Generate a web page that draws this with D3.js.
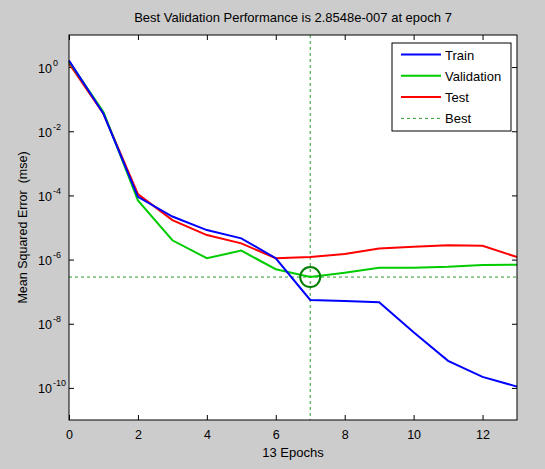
<!DOCTYPE html>
<html>
<head>
<meta charset="utf-8">
<script src="https://cdn.jsdelivr.net/npm/d3@7"></script>
<style>
  body { margin: 0; background: #cccccc; }
  svg { display: block; font-family: "Liberation Sans", Arial, sans-serif; }
  .axis text { font-size: 12.5px; fill: #000; }
</style>
</head>
<body>
<div class="chart"></div>
<script>
const epochs = [0, 1, 2, 3, 4, 5, 6, 7, 8, 9, 10, 11, 12, 13];
const train = [1.6, 0.035, 9e-5, 2.2e-5, 8.3e-6, 4.6e-6, 1.1e-6, 5.5e-8, 5.1e-8, 4.7e-8, 5.4e-9, 7e-10, 2.2e-10, 1.1e-10];
const validation = [1.5, 0.04, 7e-5, 4e-6, 1.1e-6, 1.9e-6, 5e-7, 2.8548e-7, 3.9e-7, 5.6e-7, 5.6e-7, 6e-7, 6.8e-7, 6.9e-7];
const test = [1.3, 0.035, 1.1e-4, 1.7e-5, 5.8e-6, 3.2e-6, 1.1e-6, 1.2e-6, 1.5e-6, 2.2e-6, 2.5e-6, 2.8e-6, 2.7e-6, 1.2e-6];
const bestEpoch = 7;
const bestPerf = 2.8548e-7;
const xTicks = [0, 2, 4, 6, 8, 10, 12];
const yTickExps = [0, -2, -4, -6, -8, -10];
const legendNames = ["Train", "Validation", "Test", "Best"];

const W = 545, H = 469;
const margin = {top: 35, right: 28, bottom: 49, left: 69};
const width = W - margin.left - margin.right;
const height = H - margin.top - margin.bottom;

const svg = d3.select(".chart").append("svg")
  .attr("width", W)
  .attr("height", H);

const g = svg.append("g")
  .attr("transform", `translate(${margin.left},${margin.top})`);

const x = d3.scaleLinear().domain([0, 13]).range([0, width]);
const y = d3.scaleLog().domain([1e-11, 1e1]).range([height, 0]);

g.append("rect")
  .attr("width", width)
  .attr("height", height)
  .attr("fill", "#fff");

// ticks on all four sides, pointing inward
const tickLen = 5;
g.append("g").attr("class", "axis")
  .attr("transform", `translate(0,${height})`)
  .call(d3.axisBottom(x).tickValues(xTicks).tickSize(-tickLen).tickPadding(10).tickFormat(d3.format("d")))
  .call(a => a.select(".domain").remove());
g.append("g")
  .call(d3.axisTop(x).tickValues(xTicks).tickSize(-tickLen).tickFormat(""))
  .call(a => a.select(".domain").remove());

const yVals = yTickExps.map(e => Math.pow(10, e));
const yAx = g.append("g").attr("class", "axis")
  .call(d3.axisLeft(y).tickValues(yVals).tickSize(-tickLen).tickFormat(""))
  .call(a => a.select(".domain").remove());
g.append("g")
  .attr("transform", `translate(${width},0)`)
  .call(d3.axisRight(y).tickValues(yVals).tickSize(-tickLen).tickFormat(""))
  .call(a => a.select(".domain").remove());

yAx.selectAll(".tick").each(function(d, i) {
  const t = d3.select(this).append("text")
    .attr("x", -31)
    .attr("y", 5)
    .attr("text-anchor", "start");
  t.append("tspan").text("10");
  t.append("tspan").attr("dx", 1).attr("dy", -7).style("font-size", "9px").text(yTickExps[i]);
});

g.selectAll(".tick line").attr("stroke", "#000");

// best lines
g.append("line")
  .attr("x1", x(bestEpoch)).attr("x2", x(bestEpoch))
  .attr("y1", 0).attr("y2", height)
  .attr("stroke", "#2e9a2e").attr("stroke-width", 1).attr("stroke-dasharray", "3,3");
g.append("line")
  .attr("x1", 0).attr("x2", width)
  .attr("y1", y(bestPerf)).attr("y2", y(bestPerf))
  .attr("stroke", "#2e9a2e").attr("stroke-width", 1).attr("stroke-dasharray", "3,3");

const line = d3.line()
  .x((d, i) => x(epochs[i]))
  .y(d => y(d));

const series = [
  {name: "Test", values: test, color: "#ff0000"},
  {name: "Validation", values: validation, color: "#00cc00"},
  {name: "Train", values: train, color: "#0000ff"}
];

g.selectAll(".series")
  .data(series)
  .enter()
  .append("path")
  .attr("d", d => line(d.values))
  .attr("fill", "none")
  .attr("stroke", d => d.color)
  .attr("stroke-width", 2);

g.append("circle")
  .attr("cx", x(bestEpoch))
  .attr("cy", y(bestPerf))
  .attr("r", 10)
  .attr("fill", "none")
  .attr("stroke", "#007f00")
  .attr("stroke-width", 2);

// frame
g.append("rect")
  .attr("width", width)
  .attr("height", height)
  .attr("fill", "none")
  .attr("stroke", "#000");

// legend
const lg = svg.append("g").attr("transform", "translate(392,43)");
lg.append("rect")
  .attr("width", 119)
  .attr("height", 88)
  .attr("fill", "#fff")
  .attr("stroke", "#000");
const legendColors = ["#0000ff", "#00cc00", "#ff0000", "#2e9a2e"];
legendNames.forEach((n, i) => {
  const yy = 11.5 + i * 21.3;
  lg.append("line")
    .attr("x1", 9).attr("x2", 49)
    .attr("y1", yy).attr("y2", yy)
    .attr("stroke", legendColors[i])
    .attr("stroke-width", i == 3 ? 1 : 2)
    .attr("stroke-dasharray", i == 3 ? "3,3" : null);
  lg.append("text")
    .attr("x", 53)
    .attr("y", yy + 5)
    .style("font-size", "13px")
    .text(n);
});

// titles
svg.append("text")
  .attr("x", margin.left + width / 2)
  .attr("y", 22)
  .attr("text-anchor", "middle")
  .style("font-size", "13px")
  .text("Best Validation Performance is 2.8548e-007 at epoch 7");

svg.append("text")
  .attr("x", margin.left + width / 2)
  .attr("y", 457)
  .attr("text-anchor", "middle")
  .style("font-size", "13px")
  .text("13 Epochs");

svg.append("text")
  .attr("transform", `translate(27,${margin.top + height / 2}) rotate(-90)`)
  .attr("text-anchor", "middle")
  .style("font-size", "12.5px")
  .style("white-space", "pre")
  .text("Mean Squared Error  (mse)");
</script>
</body>
</html>
